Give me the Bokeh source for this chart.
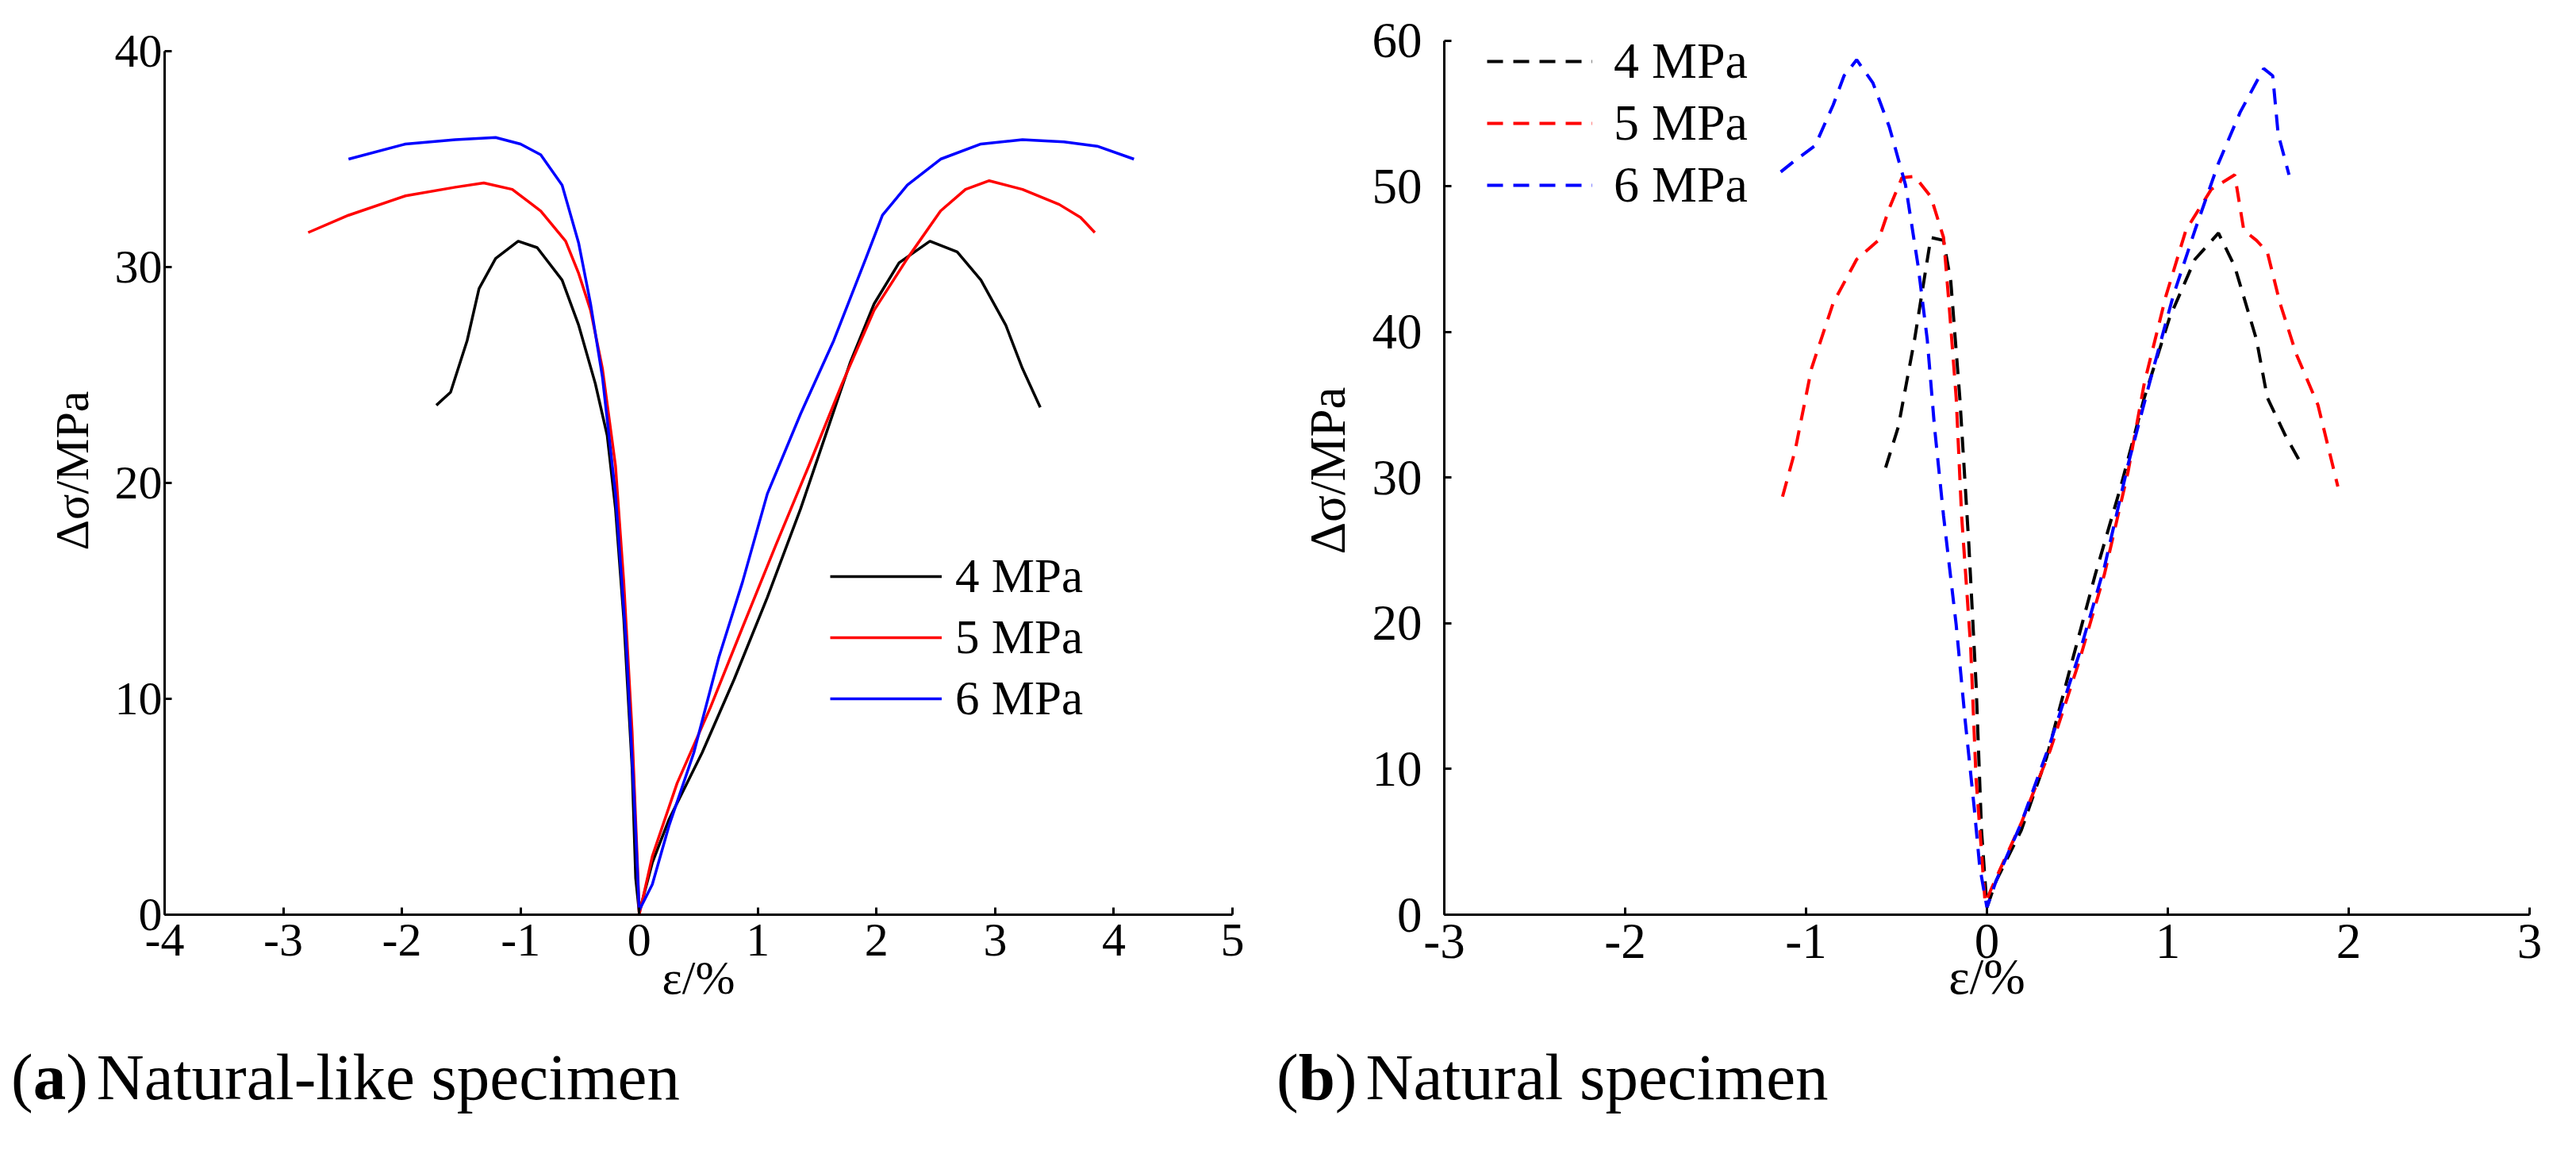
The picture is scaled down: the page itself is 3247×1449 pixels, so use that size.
from bokeh.plotting import figure
from bokeh.models import Range1d, Legend, LegendItem, Div
from bokeh.layouts import row, column
from bokeh.embed import file_html
from bokeh.resources import INLINE

# (a) natural-like specimen, solid curves
a_labels = ["4 MPa", "5 MPa", "6 MPa"]
a_x4 = [-1.71, -1.59, -1.45, -1.35, -1.21, -1.02, -0.86, -0.65, -0.51, -0.37, -0.27, -0.20, -0.13, -0.06, -0.03, 0.0,
        0.11, 0.25, 0.53, 0.80, 1.08, 1.36, 1.57, 1.78, 1.98, 2.19, 2.45, 2.68, 2.88, 3.09, 3.23, 3.38]
a_y4 = [23.6, 24.2, 26.6, 29.0, 30.4, 31.2, 30.9, 29.4, 27.3, 24.6, 22.2, 18.8, 13.7, 6.8, 1.7, 0.1,
        2.4, 4.4, 7.5, 10.9, 14.7, 18.8, 22.2, 25.6, 28.3, 30.2, 31.2, 30.7, 29.4, 27.3, 25.3, 23.5]
a_x5 = [-2.79, -2.45, -1.97, -1.55, -1.31, -1.07, -0.83, -0.62, -0.51, -0.41, -0.31, -0.20, -0.13, -0.06, -0.01, 0.0,
        0.11, 0.32, 0.60, 0.87, 1.15, 1.43, 1.71, 1.98, 2.26, 2.54, 2.75, 2.95, 3.23, 3.54, 3.72, 3.84]
a_y5 = [31.6, 32.4, 33.3, 33.7, 33.9, 33.6, 32.6, 31.2, 29.7, 28.0, 25.3, 20.8, 15.4, 8.5, 1.7, 0.0,
        2.7, 6.1, 9.6, 13.3, 17.1, 20.8, 24.6, 28.0, 30.4, 32.6, 33.6, 34.0, 33.6, 32.9, 32.3, 31.6]
a_x6 = [-2.45, -1.97, -1.55, -1.21, -1.00, -0.83, -0.65, -0.51, -0.41, -0.31, -0.20, -0.11, -0.04, 0.0,
        0.11, 0.25, 0.46, 0.67, 0.87, 1.08, 1.36, 1.64, 1.91, 2.05, 2.26, 2.54, 2.88, 3.23, 3.58, 3.86, 4.17]
a_y6 = [35.0, 35.7, 35.9, 36.0, 35.7, 35.2, 33.8, 31.1, 28.3, 24.9, 19.5, 12.6, 5.1, 0.2,
        1.4, 4.1, 7.5, 11.9, 15.4, 19.5, 23.2, 26.6, 30.4, 32.4, 33.8, 35.0, 35.7, 35.9, 35.8, 35.6, 35.0]

# (b) natural specimen, dashed curves
b_x4 = [-0.56, -0.49, -0.40, -0.31, -0.24, -0.20, -0.15, -0.10, -0.06, -0.03, 0.0,
        0.05, 0.19, 0.33, 0.46, 0.60, 0.74, 0.87, 1.01, 1.15, 1.28, 1.37, 1.49, 1.55, 1.65, 1.74]
b_y4 = [30.7, 33.5, 39.5, 46.5, 46.3, 43.5, 35.5, 25.4, 15.8, 5.8, 0.5,
        2.3, 5.8, 10.8, 16.9, 23.4, 29.4, 35.5, 41.0, 45.0, 46.8, 44.5, 39.5, 35.5, 32.9, 30.9]
b_x5 = [-1.13, -1.06, -0.97, -0.85, -0.72, -0.60, -0.54, -0.47, -0.40, -0.31, -0.24, -0.21, -0.17, -0.14, -0.09,
        -0.06, -0.03, -0.01, 0.05, 0.19, 0.35, 0.51, 0.65, 0.78, 0.87, 0.99, 1.10, 1.24, 1.37, 1.42, 1.49, 1.55,
        1.62, 1.71, 1.83, 1.94]
b_y5 = [28.7, 31.9, 37.5, 42.0, 45.0, 46.3, 48.5, 50.6, 50.7, 49.3, 46.5, 42.0, 35.5, 27.4, 18.4,
        9.3, 4.3, 0.8, 2.5, 6.3, 11.3, 17.4, 23.4, 30.4, 36.5, 42.5, 47.0, 49.8, 50.8, 47.0, 46.3, 45.5,
        42.0, 38.5, 35.0, 29.4]
b_x6 = [-1.14, -1.06, -0.95, -0.85, -0.79, -0.72, -0.63, -0.54, -0.45, -0.38, -0.33, -0.29, -0.24, -0.17, -0.12,
        -0.07, -0.04, 0.0, 0.05, 0.19, 0.35, 0.51, 0.65, 0.78, 0.92, 1.03, 1.15, 1.28, 1.40, 1.53, 1.58, 1.61, 1.67]
b_y6 = [51.0, 51.8, 52.8, 55.6, 57.6, 58.7, 57.1, 54.1, 50.1, 44.5, 39.5, 33.5, 27.4, 19.9, 13.3,
        7.3, 3.3, 0.5, 2.3, 6.3, 11.8, 17.9, 23.9, 30.9, 37.5, 42.5, 47.0, 51.6, 55.1, 58.1, 57.6, 53.6, 50.8]

a_xticks = [-4, -3, -2, -1, 0, 1, 2, 3, 4, 5]
a_yticks = [0, 10, 20, 30, 40]
b_xticks = [-3, -2, -1, 0, 1, 2, 3]
b_yticks = [0, 10, 20, 30, 40, 50, 60]

colors = ["#000000", "#ff0000", "#0000ff"]
serif = "Liberation Serif"

# both frames share the same top and bottom in a row, so the y ranges run a
# little past the last tick; the axis lines stop at the last tick (bounds)
FIG_H = 1326
CAP_H = 99
TOP, BOTTOM = 33, 174


def make_fig(w, xr, yr, left, right, tick_size, xticks, yticks):
    p = figure(width=w, height=FIG_H, x_range=Range1d(*xr), y_range=Range1d(*yr),
               title=None, output_backend="svg", toolbar_location=None,
               min_border_left=left, min_border_right=right,
               min_border_top=TOP, min_border_bottom=BOTTOM)
    p.outline_line_color = None
    p.xgrid.grid_line_color = None
    p.ygrid.grid_line_color = None
    p.xaxis[0].ticker = xticks
    p.yaxis[0].ticker = yticks
    p.xaxis[0].bounds = (xticks[0], xticks[-1])
    p.yaxis[0].bounds = (yticks[0], yticks[-1])
    p.xaxis[0].major_label_overrides = {t: str(t) for t in xticks}
    p.yaxis[0].major_label_overrides = {t: str(t) for t in yticks}
    for ax in (p.xaxis[0], p.yaxis[0]):
        ax.axis_line_width = 3
        ax.major_tick_line_width = 3
        ax.major_tick_in = 9
        ax.major_tick_out = 0
        ax.minor_tick_line_color = None
        ax.major_label_text_font = serif
        ax.major_label_text_font_size = tick_size
        ax.major_label_text_color = "#000000"
        ax.axis_label_text_font = serif
        ax.axis_label_text_font_size = tick_size
        ax.axis_label_text_font_style = "normal"
        ax.axis_label_text_color = "#000000"
    p.xaxis[0].major_label_standoff = 12
    p.xaxis[0].axis_label = "ε/%"
    p.yaxis[0].axis_label = "Δσ/MPa"
    p.yaxis[0].axis_label_standoff = 18
    return p


def caption(letter, text, w, pad):
    html = ('<div style="font-family:\'Liberation Serif\';font-size:83px;line-height:62px;'
            'white-space:nowrap;color:#000;padding-left:%dpx">(<b>%s</b>)'
            '<span style="padding-left:11px">%s</span></div>' % (pad, letter, text))
    return Div(text=html, width=w, height=CAP_H, margin=(0, 0, 0, 0))


# ---------------- (a) ----------------
pa = make_fig(1616, (-4, 5), (0, 41.14), 207, 63, "60px", a_xticks, a_yticks)
pa.yaxis[0].major_label_standoff = 3
pa.xaxis[0].axis_label_standoff = -8

ra = []
for xs, ys, c in zip([a_x4, a_x5, a_x6], [a_y4, a_y5, a_y6], colors):
    ra.append(pa.line(xs, ys, line_color=c, line_width=3.5))

leg_a = Legend(items=[LegendItem(label=l, renderers=[r]) for l, r in zip(a_labels, ra)],
               location=(839, 237), glyph_width=141, glyph_height=70, label_height=70,
               spacing=7, label_standoff=17, padding=0, margin=0,
               label_text_font=serif, label_text_font_size="61px", label_text_color="#000000",
               border_line_color=None, background_fill_alpha=0)
pa.add_layout(leg_a, "center")

# ---------------- (b) ----------------
pb = make_fig(1615, (-3, 3), (0, 60.98), 204, 43, "63px", b_xticks, b_yticks)
pb.yaxis[0].major_label_standoff = 28
pb.xaxis[0].axis_label_standoff = -14

rb = []
for xs, ys, c in zip([b_x4, b_x5, b_x6], [b_y4, b_y5, b_y6], colors):
    rb.append(pb.line(xs, ys, line_color=c, line_width=4, line_dash="20 13"))

leg_b = Legend(items=[LegendItem(label=l, renderers=[r]) for l, r in zip(a_labels, rb)],
               location=(54, 882), glyph_width=133, glyph_height=74, label_height=74,
               spacing=4, label_standoff=27, padding=0, margin=0,
               label_text_font=serif, label_text_font_size="64px", label_text_color="#000000",
               border_line_color=None, background_fill_alpha=0)
pb.add_layout(leg_b, "center")

cap_a = caption("a", "Natural-like specimen", 1609, 14)
cap_b = caption("b", "Natural specimen", 1622, 0)

layout = column(row(pa, pb), row(cap_a, cap_b))
open("out.html", "w").write(file_html(layout, INLINE))
